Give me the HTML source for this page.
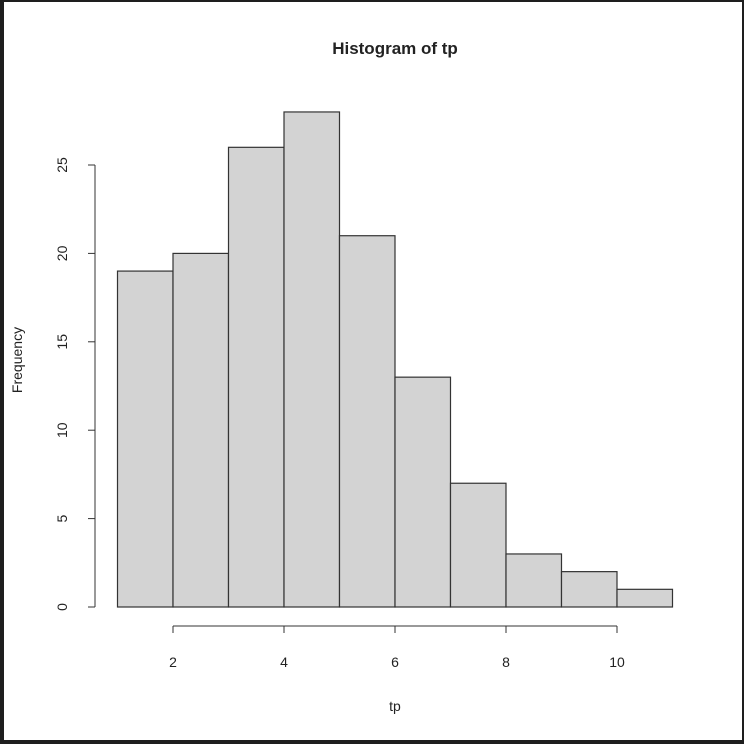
<!DOCTYPE html>
<html><head><style>
body{margin:0;background:#1e1e1e;}
#wrap{position:absolute;left:4px;top:2px;width:738px;height:738px;background:#fff;}
svg{position:absolute;left:0;top:0;}
text{font-family:"Liberation Sans",sans-serif;fill:#222;}
</style></head><body>
<div id="wrap"></div>
<svg id="chart" width="744" height="744">
<text x="395" y="54" font-size="17" font-weight="bold" text-anchor="middle">Histogram of tp</text>
<text x="395" y="711" font-size="14" text-anchor="middle">tp</text>
<text x="22" y="360" font-size="14" text-anchor="middle" transform="rotate(-90 22 360)">Frequency</text>
<g id="bars"></g><g id="xaxis"></g><g id="yaxis"></g>
</svg>
<script>
const breaks=[1,2,3,4,5,6,7,8,9,10,11];
const counts=[19,20,26,28,21,13,7,3,2,1];
const xTicks=[2,4,6,8,10];
const yTicks=[0,5,10,15,20,25];
const xs=v=>117.5+(v-1)*55.5;
const ys=v=>607-v*17.68;
const NS="http://www.w3.org/2000/svg";
function mk(t,a,p){const e=document.createElementNS(NS,t);for(const k in a)e.setAttribute(k,a[k]);p.appendChild(e);return e;}
const bars=document.getElementById('bars');
counts.forEach((c,i)=>{
 const r=mk('rect',{x:xs(breaks[i]),y:ys(c),width:xs(breaks[i+1])-xs(breaks[i]),height:ys(0)-ys(c),fill:'#d3d3d3',stroke:'#333','stroke-width':1.2},bars);
 
 
});
const xa=document.getElementById('xaxis');
mk('line',{x1:xs(xTicks[0]),x2:xs(xTicks[xTicks.length-1]),y1:626,y2:626,stroke:'#333'},xa);
xTicks.forEach(t=>{
 mk('line',{x1:xs(t),x2:xs(t),y1:626,y2:633,stroke:'#333'},xa);
 const tx=mk('text',{x:xs(t),y:667,'font-size':14,'text-anchor':'middle'},xa);tx.textContent=t;
 
 
});
const ya=document.getElementById('yaxis');
mk('line',{x1:95,x2:95,y1:ys(yTicks[0]),y2:ys(yTicks[yTicks.length-1]),stroke:'#333'},ya);
yTicks.forEach(t=>{
 mk('line',{x1:88,x2:95,y1:ys(t),y2:ys(t),stroke:'#333'},ya);
 const tx=mk('text',{x:67,y:ys(t),'font-size':14,'text-anchor':'middle',transform:`rotate(-90 67 ${ys(t)})`},ya);tx.textContent=t;
 
 
});
</script>
</body></html>
